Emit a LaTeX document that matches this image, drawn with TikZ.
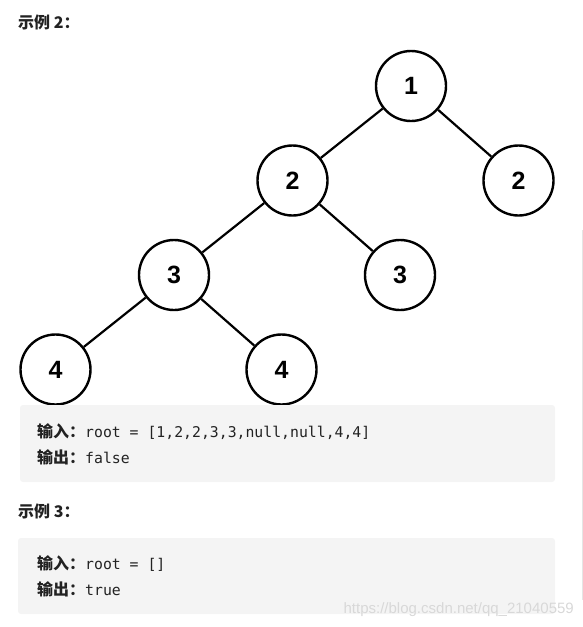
\documentclass[tikz,border=0pt]{standalone}
\usepackage{fontspec}
\usepackage{xcolor}
\usepackage{tikz}
\usetikzlibrary{positioning, trees}
\setmainfont{Liberation Sans}
\setmonofont{DejaVu Sans Mono}
\newfontfamily\cjk{Noto Sans CJK SC}
\definecolor{codebg}{HTML}{F4F4F4}
\definecolor{inktext}{HTML}{222222}
\definecolor{wmark}{HTML}{D8D8D8}
\newcommand{\cjklabel}[1]{{\fontsize{16}{16}\selectfont\cjk\bfseries #1}}

\begin{document}
\begin{tikzpicture}[
    x=1pt, y=1pt,
    grow via three points={one child at (0,-94.5) and two children at (-118.5,-94.5) and (107.5,-94.5)},
    num/.style={circle, draw, line width=2.4pt, minimum size=70pt, inner sep=0pt,
      fill=white, font=\fontsize{25}{25}\selectfont\bfseries},
    edge from parent/.style={draw, line width=2.2pt},
    codebox/.style={fill=codebg, rounded corners=3pt},
    head/.style={anchor=base west, inner sep=0pt, text=inktext,
      font=\fontsize{16}{16}\selectfont\cjk\bfseries},
    code/.style={anchor=base west, inner sep=0pt, text=inktext,
      font=\fontsize{14.8}{14.8}\selectfont\ttfamily}
  ]
  \useasboundingbox (0,0) rectangle (583,-627);

  \node[head] (h2) at (18,-28) {示例 2：};

  % the tree
  \node[num] (n1) at (411,-86) {1}
    child { node[num] (n2l) {2}
      child { node[num] (n3l) {3}
        child { node[num] (n4l) {4} }
        child { node[num] (n4r) {4} } }
      child { node[num] (n3r) {3} } }
    child { node[num] (n2r) {2} };

  % example 2
  \fill[codebox] (20,-405) rectangle (555,-482);
  \node[code] (in2) at (37,-437) {\cjklabel{输入：}root = [1,2,2,3,3,null,null,4,4]};
  \node[code, below=26pt of in2.base west, anchor=base west] (out2) {\cjklabel{输出：}false};

  % example 3
  \node[head] (h3) at (18,-517) {示例 3：};
  \fill[codebox] (18,-538) rectangle (555,-614);
  \node[code] (in3) at (37,-569) {\cjklabel{输入：}root = []};
  \node[code, below=26pt of in3.base west, anchor=base west] (out3) {\cjklabel{输出：}true};

  \node[anchor=base east, inner sep=0pt, text=wmark,
    font=\fontsize{15}{15}\selectfont] (wm) at (574,-613) {https://blog.csdn.net/qq\_21040559};

  \coordinate (bar1) at (582,-230);
  \coordinate (bar2) at (582,-600);
  \draw[black!10, line width=0.8pt] (bar1) -- (bar2);
\end{tikzpicture}
\end{document}
